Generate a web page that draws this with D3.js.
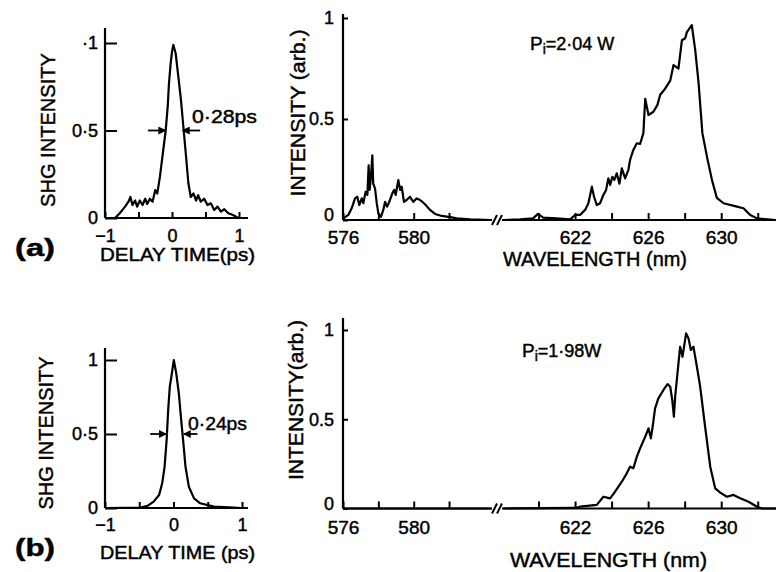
<!DOCTYPE html>
<html>
<head>
<meta charset="utf-8">
<script src="https://cdn.jsdelivr.net/npm/d3@7"></script>
<style>
body { margin: 0; background: #fff; }
svg text { font-family: "Liberation Sans", Arial, sans-serif; fill: #000; stroke: #000; stroke-width: 0.45px; }
</style>
</head>
<body>
<div id="chart"></div>
<script>
// autocorrelation traces (delay in ps, normalised SHG)
const delayA = [-0.85,-0.78,-0.7,-0.65,-0.62,-0.59,-0.55,-0.52,-0.48,-0.44,-0.4,-0.37,-0.33,-0.29,-0.25,-0.22,-0.18,-0.13,-0.094,-0.064,-0.045,-0.02,0.0,0.02,0.055,0.095,0.134,0.17,0.21,0.244,0.28,0.32,0.36,0.39,0.43,0.48,0.53,0.58,0.63,0.68,0.73,0.78,0.84,0.91,0.99];
const shgA = [0,0.027,0.065,0.093,0.12,0.074,0.1,0.065,0.1,0.074,0.11,0.08,0.11,0.093,0.16,0.14,0.236,0.39,0.5,0.636,0.77,0.884,0.95,0.99,0.94,0.807,0.674,0.52,0.35,0.2,0.12,0.14,0.1,0.13,0.093,0.11,0.074,0.084,0.046,0.065,0.036,0.05,0.027,0.017,0];
const delayB = [-0.97,-0.48,-0.38,-0.29,-0.21,-0.165,-0.13,-0.1,-0.078,-0.054,-0.03,0.005,0.04,0.078,0.112,0.14,0.175,0.224,0.3,0.39,0.59,0.88,0.98];
const shgB = [0,0.003,0.014,0.043,0.088,0.167,0.28,0.46,0.66,0.82,0.89,1.0,0.91,0.775,0.595,0.46,0.28,0.144,0.065,0.032,0.009,0.002,0];

// spectra (wavelength nm, intensity arb.), split at the axis break
const lamA1 = [576.0,576.02,576.3,576.49,576.68,576.81,576.92,577.06,577.15,577.28,577.38,577.45,577.51,577.58,577.66,577.71,577.81,577.91,578.0,578.15,578.28,578.38,578.49,578.62,578.79,578.9,578.98,579.13,579.23,579.32,579.45,579.6,579.79,579.98,580.17,580.36,580.49,580.68,580.92,581.21,581.59,582.15,582.43,583.19,584.4];
const intA1 = [0,0.008,0.025,0.058,0.107,0.115,0.074,0.107,0.083,0.14,0.124,0.27,0.149,0.214,0.32,0.18,0.157,0.083,0.033,0.016,0.05,0.09,0.066,0.09,0.132,0.149,0.124,0.198,0.149,0.165,0.09,0.099,0.115,0.09,0.107,0.099,0.09,0.074,0.05,0.03,0.02,0.013,0.008,0.003,0];
const lamA2 = [618.05,618.99,619.7,619.97,620.25,620.96,621.73,622.0,622.27,622.55,622.73,622.92,623.04,623.19,623.37,623.55,623.7,623.82,623.92,624.04,624.15,624.28,624.43,624.56,624.74,624.92,625.01,625.19,625.38,625.56,625.74,625.84,626.02,626.29,626.51,626.66,626.93,627.21,627.39,627.66,627.85,628.03,628.12,628.39,628.58,628.76,628.97,629.25,629.49,629.76,630.13,630.86,631.22,631.59,631.96,633.0];
const intA2 = [0,0.003,0.008,0.03,0.012,0.008,0.003,0.025,0.025,0.05,0.083,0.165,0.115,0.074,0.083,0.124,0.149,0.206,0.173,0.214,0.198,0.231,0.18,0.256,0.206,0.248,0.297,0.347,0.38,0.376,0.43,0.6,0.52,0.536,0.57,0.62,0.65,0.69,0.767,0.75,0.89,0.9,0.93,0.965,0.84,0.68,0.43,0.3,0.2,0.11,0.083,0.066,0.058,0.025,0.008,0];
const lamB1 = [576.0,584.4];
const intB1 = [0,0];
const lamB2 = [618.05,622.0,622.27,623.19,623.55,623.92,624.19,624.56,624.83,625.01,625.19,625.38,625.56,625.84,626.02,626.15,626.26,626.38,626.56,626.84,627.06,627.21,627.32,627.41,627.48,627.66,627.75,627.88,628.08,628.21,628.34,628.48,628.67,628.85,629.12,629.4,629.67,629.95,630.31,630.67,631.04,631.5,631.96,632.23,633.0];
const intB2 = [0,0.003,0.01,0.02,0.066,0.057,0.094,0.15,0.197,0.234,0.225,0.29,0.337,0.402,0.449,0.393,0.468,0.561,0.617,0.664,0.697,0.682,0.608,0.514,0.626,0.813,0.906,0.85,0.981,0.953,0.888,0.906,0.794,0.682,0.458,0.234,0.113,0.089,0.066,0.076,0.057,0.038,0.01,0,0];

// ticks
const delayTicks = [-1,-0.5,0,0.5,1];
const delayLabels = [-1,0,1];
const intTicks = [0,0.5,1];
const lamTicks = [576,578,580,582,620,622,624,626,628,630,632];
const lamLabels = [576,580,622,626,630];

let width = 776;
let height = 572;

let svg = d3.select("#chart")
    .append("svg")
    .attr("width", width)
    .attr("height", height);

svg.append("defs").append("marker")
    .attr("id", "arr")
    .attr("viewBox", "0 0 8 8")
    .attr("refX", 7).attr("refY", 4)
    .attr("markerWidth", 8).attr("markerHeight", 8)
    .attr("markerUnits", "userSpaceOnUse")
    .attr("orient", "auto")
    .append("path")
    .attr("d", "M0,0 L8,4 L0,8 Z")
    .attr("fill", "#000");

function pairs(xs, ys) {
    return xs.map((v, i) => [v, ys[i]]);
}

function styleAxis(g, size) {
    g.select(".domain").remove();
    g.selectAll("line").attr("stroke", "#000").attr("stroke-width", 2);
    g.selectAll("text")
        .attr("font-size", size)
        .attr("font-family", '"Liberation Sans", Arial, sans-serif')
        .attr("fill", "#000");
}

function vText(x, y, len, size, str) {
    svg.append("text")
        .attr("transform", "translate(" + x + "," + y + ") rotate(-90)")
        .attr("text-anchor", "middle")
        .attr("font-size", size)
        .attr("textLength", len)
        .attr("lengthAdjust", "spacingAndGlyphs")
        .text(str);
}

function hText(x, y, len, size, str, bold) {
    svg.append("text")
        .attr("x", x).attr("y", y)
        .attr("font-size", size)
        .attr("font-weight", bold ? "bold" : "normal")
        .attr("textLength", len)
        .attr("lengthAdjust", "spacingAndGlyphs")
        .text(str);
}

// ---- autocorrelation panel ----
function delayPanel(p) {
    let x = d3.scaleLinear().domain([-1, 1]).range([p.left, p.right]);
    let y = d3.scaleLinear().domain([0, 1]).range([p.bottom, p.top]);

    svg.append("line")
        .attr("x1", p.left).attr("x2", p.left)
        .attr("y1", p.axisTop).attr("y2", p.bottom)
        .attr("stroke", "#000").attr("stroke-width", 2.2);
    svg.append("line")
        .attr("x1", p.left).attr("x2", p.axisRight)
        .attr("y1", p.bottom).attr("y2", p.bottom)
        .attr("stroke", "#000").attr("stroke-width", 2.2);

    let xg = svg.append("g")
        .attr("transform", "translate(0," + p.bottom + ")")
        .call(d3.axisBottom(x).tickValues(delayTicks).tickSizeInner(-6).tickSizeOuter(0).tickPadding(p.xPad)
            .tickFormat(d => delayLabels.includes(d) ? (d < 0 ? "\u22121" : d3.format("d")(d)) : ""));
    styleAxis(xg, 18);

    let yg = svg.append("g")
        .attr("transform", "translate(" + p.left + ",0)")
        .call(d3.axisLeft(y).tickValues(intTicks).tickSizeInner(-12).tickSizeOuter(0).tickPadding(7)
            .tickFormat(p.yFmt));
    styleAxis(yg, 18);

    svg.append("path")
        .datum(pairs(p.xs, p.ys))
        .attr("fill", "none")
        .attr("stroke", "#000")
        .attr("stroke-width", 2.2)
        .attr("stroke-linejoin", "round")
        .attr("d", d3.line().x(d => x(d[0])).y(d => y(d[1])));

    // FWHM arrows
    [[p.arrL[0], p.arrL[1]], [p.arrR[0], p.arrR[1]]].forEach(a => {
        svg.append("line")
            .attr("x1", x(a[0])).attr("x2", x(a[1]))
            .attr("y1", y(0.5)).attr("y2", y(0.5))
            .attr("stroke", "#000").attr("stroke-width", 1.8)
            .attr("marker-end", "url(#arr)");
    });
}

// ---- spectrum panel ----
function lamScale() {
    return d3.scaleLinear()
        .domain([576, 584.43, 618.0, 633.0])
        .range([343, 492, 502, 776]);
}

function spectrumPanel(p) {
    let x = lamScale();
    let y = d3.scaleLinear().domain([0, 1]).range([p.bottom, p.top]);

    svg.append("line")
        .attr("x1", 343).attr("x2", 343)
        .attr("y1", p.axisTop).attr("y2", p.bottom)
        .attr("stroke", "#000").attr("stroke-width", 2.2);
    [[576, 584.43], [618.0, 633.0]].forEach(s => {
        svg.append("line")
            .attr("x1", x(s[0])).attr("x2", x(s[1]))
            .attr("y1", p.bottom).attr("y2", p.bottom)
            .attr("stroke", "#000").attr("stroke-width", 2.2);
    });
    // break marks
    [494.5, 499.5].forEach(bx => {
        svg.append("line")
            .attr("x1", bx - 2.5).attr("x2", bx + 2.5)
            .attr("y1", p.bottom + 5).attr("y2", p.bottom - 5)
            .attr("stroke", "#000").attr("stroke-width", 2);
    });

    let xg = svg.append("g")
        .attr("transform", "translate(0," + p.bottom + ")")
        .call(d3.axisBottom(x).tickValues(lamTicks).tickSizeInner(-7).tickSizeOuter(0).tickPadding(p.xPad)
            .tickFormat(d => lamLabels.includes(d) ? String(d) : ""));
    styleAxis(xg, 19);

    let yg = svg.append("g")
        .attr("transform", "translate(343,0)")
        .call(d3.axisLeft(y).tickValues(intTicks).tickSizeInner(-5).tickSizeOuter(0).tickPadding(9)
            .tickFormat(d => d === 0.5 ? "0.5" : String(d)));
    styleAxis(yg, 18);
    // the zero label sits a little higher, clear of the 576 label
    yg.selectAll(".tick").filter(d => d === 0).select("text").attr("dy", "0.05em");

    p.series.forEach(s => {
        svg.append("path")
            .datum(pairs(s[0], s[1]))
            .attr("fill", "none")
            .attr("stroke", "#000")
            .attr("stroke-width", 2.2)
            .attr("stroke-linejoin", "round")
            .attr("d", d3.line().x(d => x(d[0])).y(d => y(d[1])));
    });
}

// (a)
delayPanel({
    left: 105, right: 239, axisRight: 248, bottom: 218, top: 43, axisTop: 28, xPad: 11,
    xs: delayA, ys: shgA,
    yFmt: d => d === 1 ? "\u00b71" : d === 0.5 ? "0\u00b75" : "0",
    arrL: [-0.36, -0.1], arrR: [0.42, 0.16]
});
spectrumPanel({
    bottom: 220, top: 18, axisTop: 14, xPad: 11,
    series: [[lamA1, intA1], [lamA2, intA2]]
});

// (b)
delayPanel({
    left: 105, right: 242, axisRight: 248, bottom: 508, top: 360, axisTop: 348, xPad: 10,
    xs: delayB, ys: shgB,
    yFmt: d => d === 1 ? "1" : d === 0.5 ? "0\u00b75" : "0",
    arrL: [-0.34, -0.11], arrR: [0.35, 0.15]
});
spectrumPanel({
    bottom: 508.5, top: 330, axisTop: 318, xPad: 12,
    series: [[lamB1, intB1], [lamB2, intB2]]
});

// labels
vText(55, 130, 154, 21, "SHG INTENSITY");
vText(53, 433, 153, 21, "SHG INTENSITY");
vText(305, 113, 167, 20, "INTENSITY (arb.)");
vText(303, 400, 160, 20, "INTENSITY(arb.)");

hText(100, 261, 155, 18, "DELAY TIME(ps)");
hText(100, 559, 155, 18, "DELAY TIME (ps)");
hText(15, 256, 40, 24, "(a)", true);
hText(15, 556, 40, 24, "(b)", true);
hText(192, 123, 65, 18, "0\u00b728ps");
hText(188, 430, 59, 18, "0\u00b724ps");
hText(503, 266, 184, 20, "WAVELENGTH (nm)");
hText(510, 567, 197, 20, "WAVELENGTH (nm)");

function powerLabel(x, yb, str) {
    let t = svg.append("text").attr("x", x).attr("y", yb).attr("font-size", 19);
    t.append("tspan").text("P");
    t.append("tspan").attr("font-size", 14).attr("dy", 4).text("i");
    t.append("tspan").attr("dy", -4).attr("font-size", 18).text(str);
}
powerLabel(530, 50, "=2\u00b704 W");
powerLabel(522, 357, "=1\u00b798W");
</script>
</body>
</html>
